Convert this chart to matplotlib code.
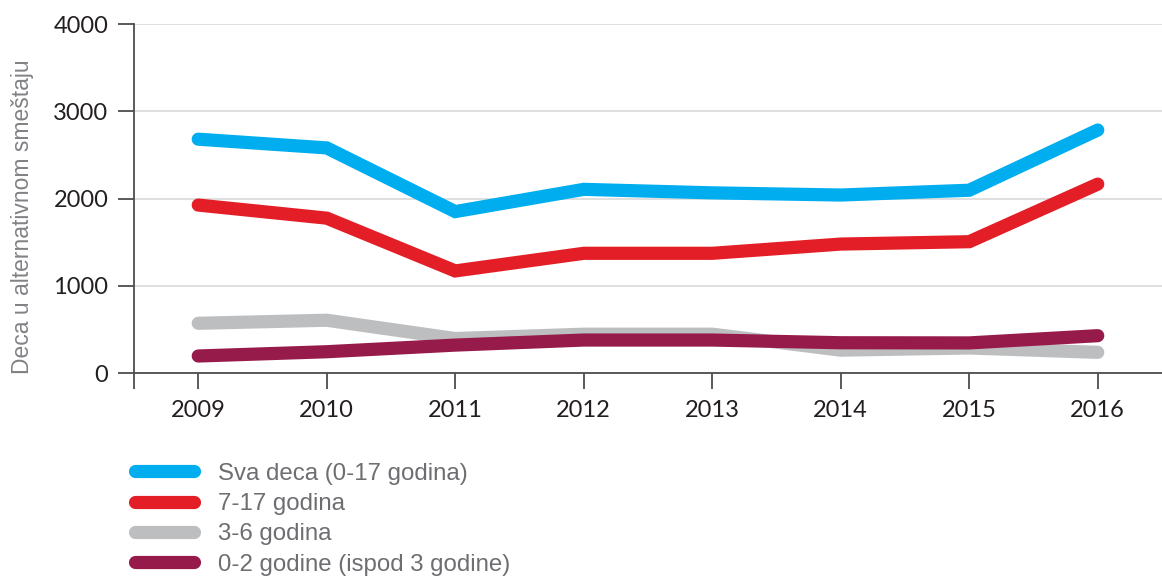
import matplotlib
matplotlib.use("Agg")
import matplotlib.pyplot as plt
from matplotlib.ticker import FixedLocator

# Broj dece u alternativnom smeštaju, po uzrastu
years = [2009, 2010, 2011, 2012, 2013, 2014, 2015, 2016]
sva_deca = [2680, 2580, 1850, 2105, 2065, 2040, 2095, 2785]
uzrast_7_17 = [1925, 1775, 1170, 1372, 1372, 1478, 1505, 2165]
uzrast_3_6 = [570, 605, 395, 445, 445, 262, 287, 237]
uzrast_0_2 = [195, 244, 320, 378, 378, 347, 345, 428]

labels = ["Sva deca (0-17 godina)", "7-17 godina", "3-6 godina",
          "0-2 godine (ispod 3 godine)"]
colors = ["#00aeef", "#e31e26", "#bcbec0", "#961a4a"]

plt.rcParams["font.family"] = ["Liberation Sans", "DejaVu Sans"]

fig = plt.figure(figsize=(11.62, 5.76), dpi=100)
ax = fig.add_axes([0.1153, 0.3524, 0.8847, 0.6059])

series = [sva_deca, uzrast_7_17, uzrast_3_6, uzrast_0_2]
zorders = [5, 4, 2, 3]
lines = []
for vals, lab, col, z in zip(series, labels, colors, zorders):
    ln, = ax.plot(years, vals, color=col, lw=9.5, label=lab, zorder=z,
                  solid_capstyle="round", solid_joinstyle="miter")
    lines.append(ln)

ax.set_xlim(2008.5, 2016.5)
ax.set_ylim(0, 4000)
ax.set_xticks(years)
ax.set_yticks([0, 1000, 2000, 3000, 4000])
ax.xaxis.set_minor_locator(FixedLocator([2008.5]))

ax.grid(axis="y", color="#d9d9d9", lw=1.2, zorder=0)
ax.set_axisbelow(True)

for s in ["top", "right"]:
    ax.spines[s].set_visible(False)
for s in ["left", "bottom"]:
    ax.spines[s].set_color("#4d4d4d")
    ax.spines[s].set_linewidth(1.3)

ax.tick_params(axis="both", which="both", direction="out", length=11.5,
               width=1.3, color="#4d4d4d", labelsize=17, labelcolor="#231f20")
ax.tick_params(axis="x", pad=8)
ax.tick_params(axis="y", pad=7)
for lbl in ax.get_xticklabels() + ax.get_yticklabels():
    lbl.set_family(["Lato", "DejaVu Sans"])

fig.text(0.019, 0.623, "Deca u alternativnom smeštaju", rotation=90,
         ha="center", va="center", fontsize=16.5, color="#808285")

leg = fig.legend(handles=lines, loc="upper left",
                 bbox_to_anchor=(0.1158, 0.197), frameon=False,
                 fontsize=17.3, handlelength=2.46, handletextpad=1.0,
                 labelspacing=0.35, borderaxespad=0, borderpad=0)
for t in leg.get_texts():
    t.set_color("#6d6e71")
for h in leg.legend_handles:
    h.set_linewidth(9.5)
    h.set_solid_capstyle("round")

fig.savefig("out.png", dpi=100)
